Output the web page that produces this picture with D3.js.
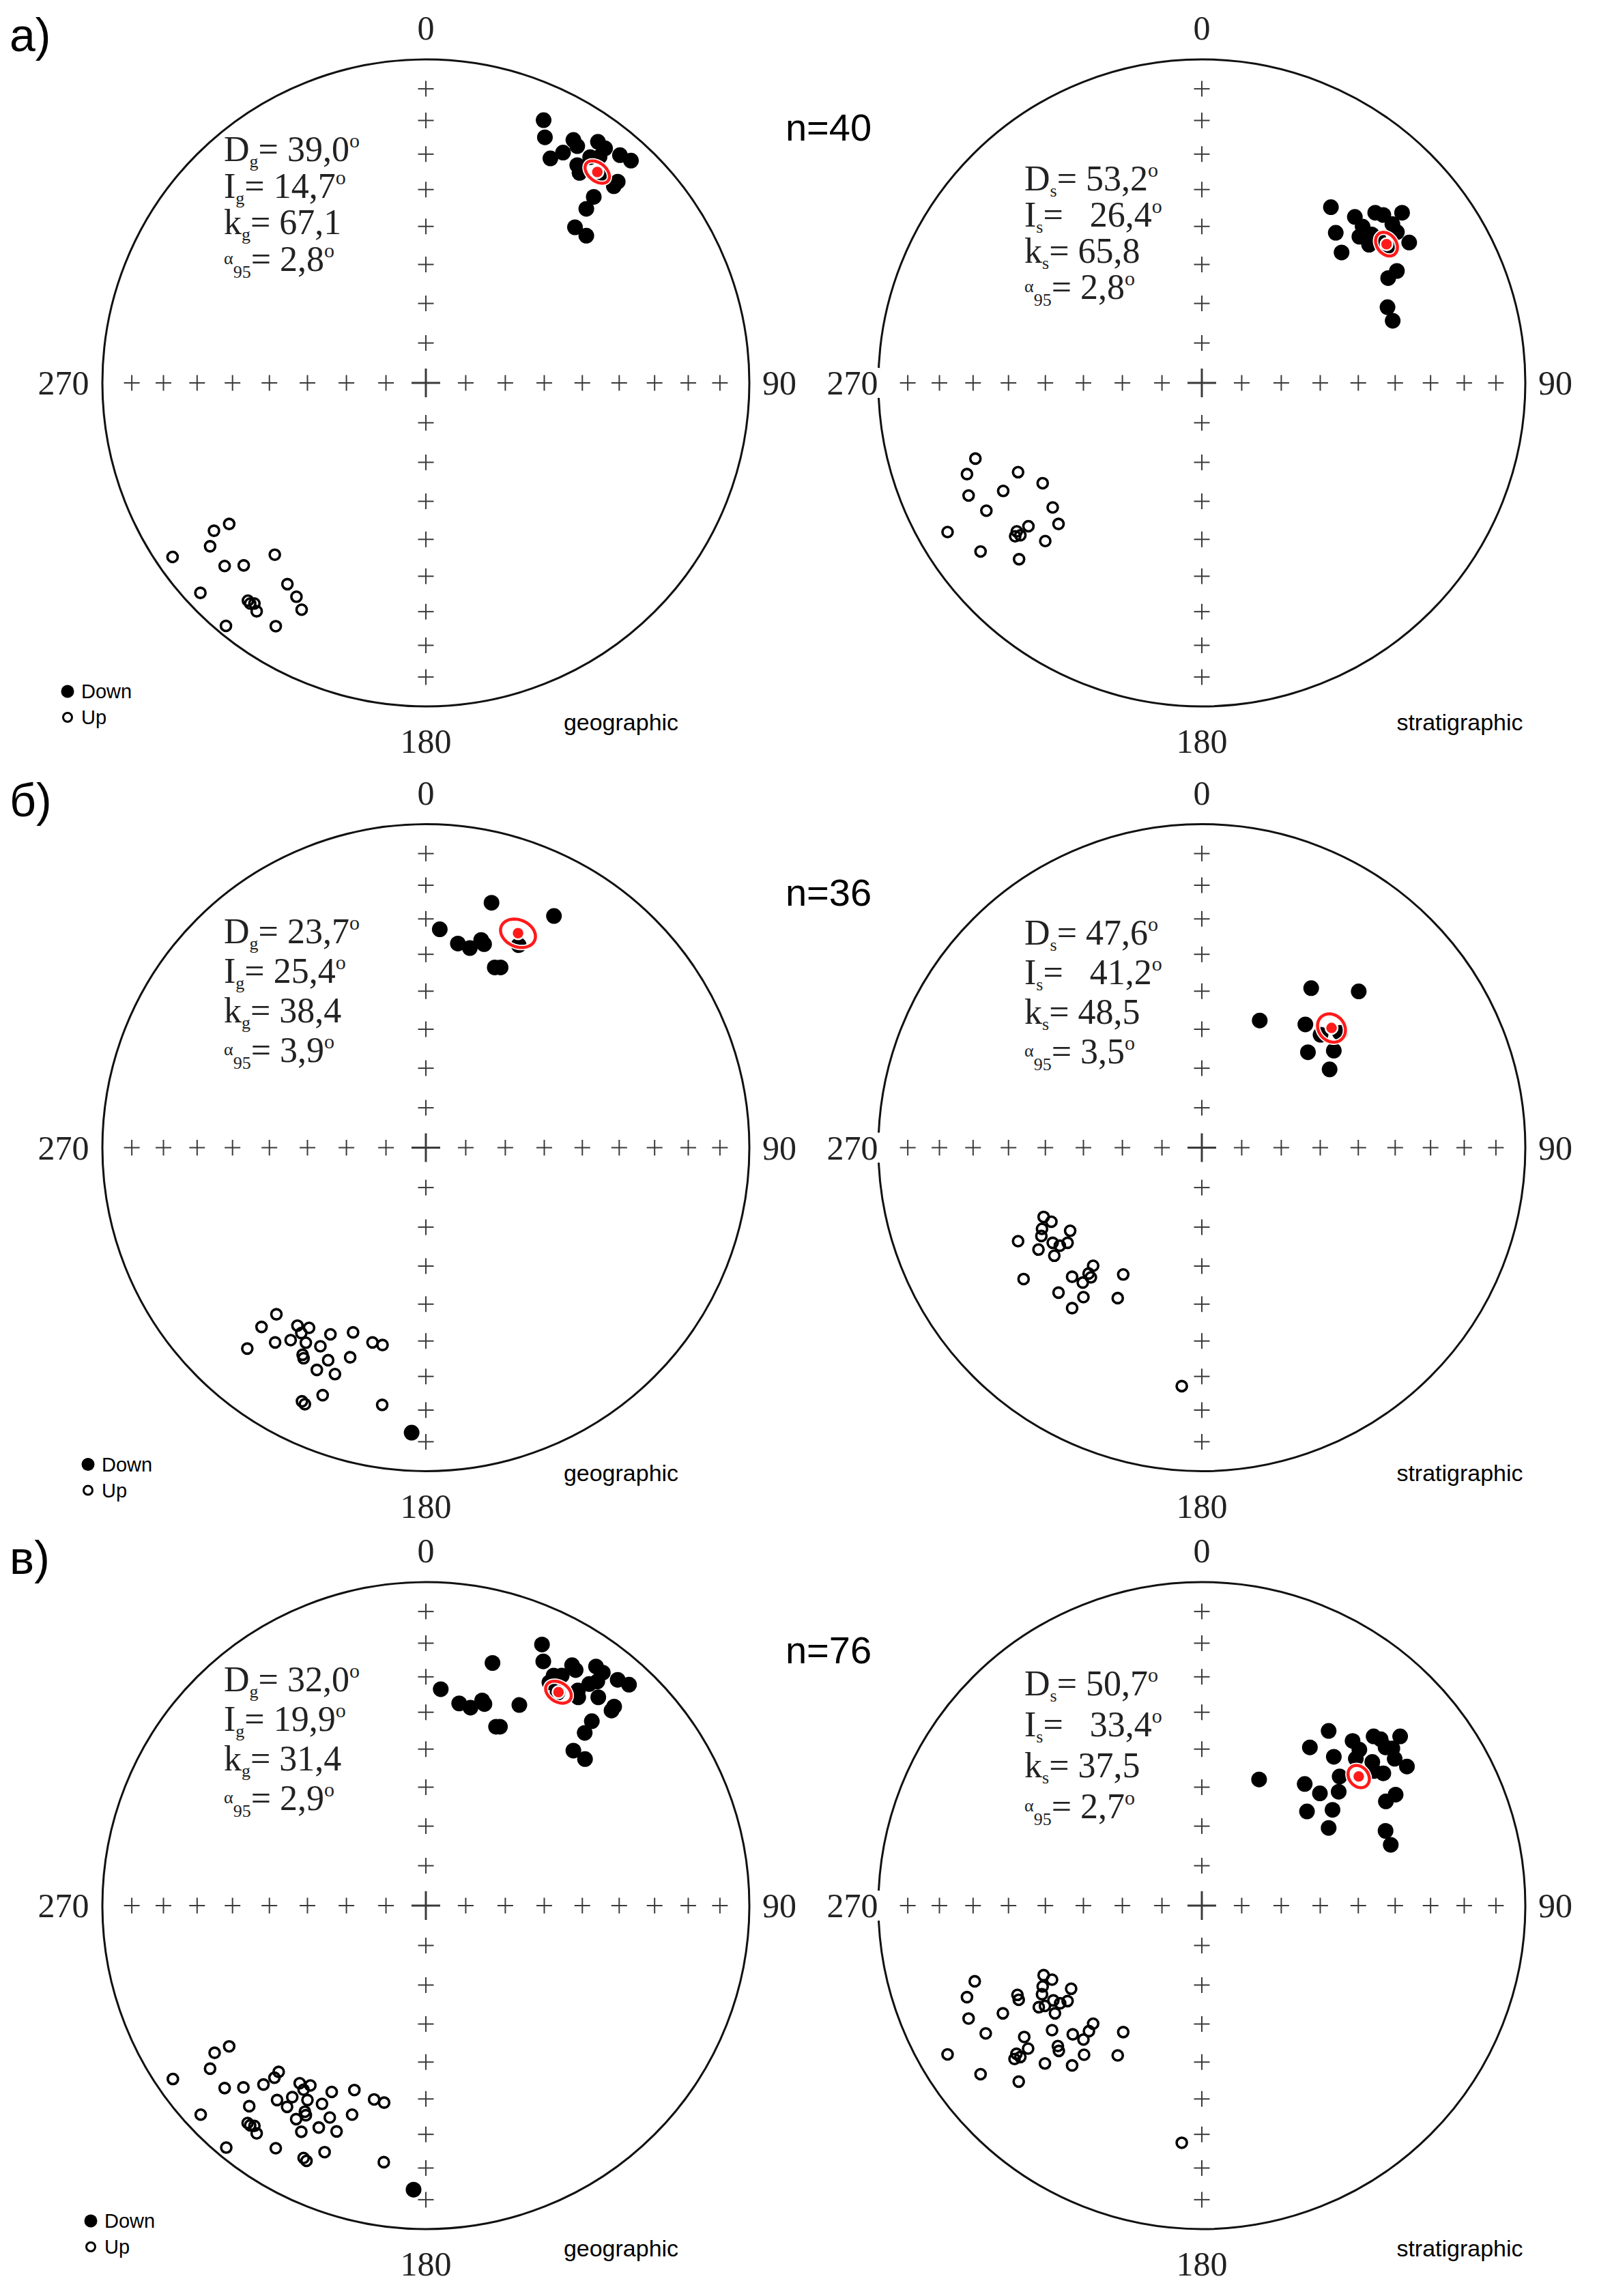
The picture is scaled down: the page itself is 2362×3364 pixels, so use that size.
<!DOCTYPE html>
<html><head><meta charset="utf-8">
<script src="https://cdn.jsdelivr.net/npm/d3@7"></script>
<style>html,body{margin:0;padding:0;background:#fff}</style>
</head><body>
<svg id="c" width="2362" height="3364" xmlns="http://www.w3.org/2000/svg"></svg>
<script>
// ---------------- DATA ----------------
const rowLabels = ["а)", "б)", "в)"];
const sampleCounts = ["n=40", "n=36", "n=76"];
const frameNames = ["geographic", "stratigraphic"];
const frameSubs = ["g", "s"];
const dirLabels = ["0", "90", "180", "270"];
const tickInclinations = [80, 70, 60, 50, 40, 30, 20, 10];
const legendLabels = ["Down", "Up"];

const statD   = [["39,0", "53,2"], ["23,7", "47,6"], ["32,0", "50,7"]];
const statI   = [["14,7", "26,4"], ["25,4", "41,2"], ["19,9", "33,4"]];
const statK   = [["67,1", "65,8"], ["38,4", "48,5"], ["31,4", "37,5"]];
const statA95 = [["2,8", "2,8"], ["3,9", "3,5"], ["2,9", "2,7"]];

// plotted mean directions (projection coords, % of net radius: east, north)
const meanPos = [[[53.0, 65.2], [57.1, 42.9]],
                 [[28.5, 66.3], [40.1, 37.0]],
                 [[41.0, 66.0], [48.5, 39.9]]];

// directions in equal-area projection coords (% of net radius: east, north)
const aGeoDown = [[36.4,81.2],[36.8,75.9],[38.5,69.4],[42.4,71.2],[45.6,75.1],[46.8,73.2],[53.2,74.5],[55.4,72.5],[60.0,70.4],[63.4,68.7],[46.8,67.3],[47.5,64.9],[50.8,69.8],[53.7,69.9],[54.0,63.8],[59.3,62.2],[58.1,60.8],[51.9,57.5],[49.6,53.8],[46.1,48.1],[49.6,45.5]];
const aGeoUp = [[-60.8,-43.6],[-65.5,-45.7],[-66.7,-50.5],[-78.3,-53.8],[-46.7,-53.1],[-62.2,-56.6],[-56.3,-56.4],[-42.8,-62.2],[-40.0,-66.1],[-38.4,-70.1],[-69.7,-64.9],[-55.0,-67.3],[-53.0,-68.2],[-54.3,-68.2],[-52.3,-70.6],[-61.8,-75.1],[-46.4,-75.2]];
const aStrDown = [[39.9,54.3],[47.3,51.3],[41.4,46.4],[43.2,40.3],[49.7,48.3],[48.7,45.2],[51.7,42.7],[53.6,52.6],[56.1,51.9],[61.9,52.6],[58.9,49.1],[60.3,46.6],[64.1,43.4],[52.5,45.9],[57.8,41.7],[60.3,34.6],[57.6,32.4],[57.4,23.4],[59.0,19.2],[54.6,44.5]];
const aStrUp = [[-70.0,-23.4],[-72.6,-28.2],[-56.8,-27.6],[-49.2,-31.0],[-61.4,-33.4],[-72.1,-34.8],[-66.6,-39.5],[-46.1,-38.5],[-44.3,-43.6],[-53.6,-44.3],[-57.2,-45.9],[-56.1,-47.1],[-57.7,-47.4],[-48.4,-48.9],[-78.6,-46.1],[-68.4,-52.1],[-56.5,-54.5]];

const bGeoDown = [[20.3,75.7],[39.6,71.6],[4.3,67.5],[9.9,63.1],[13.6,61.7],[17.1,64.2],[18.0,62.9],[28.7,62.6],[21.3,55.7],[23.1,55.7],[-4.4,-88.1]];
const bGeoUp = [[-46.2,-51.5],[-50.8,-55.4],[-39.7,-55.0],[-36.1,-55.7],[-38.5,-57.3],[-29.5,-57.7],[-22.5,-57.1],[-46.6,-60.2],[-41.8,-59.5],[-37.1,-60.3],[-32.6,-61.4],[-16.5,-60.2],[-13.4,-61.0],[-55.2,-62.1],[-38.1,-64.0],[-37.8,-65.1],[-30.2,-65.7],[-23.4,-64.8],[-33.7,-68.7],[-28.1,-70.0],[-31.9,-76.5],[-38.3,-78.4],[-37.4,-79.3],[-13.5,-79.5]];
const bStrDown = [[33.8,49.3],[48.5,48.3],[17.9,39.3],[32.0,38.1],[36.7,34.9],[42.7,35.5],[32.8,29.5],[40.8,30.0],[39.5,24.2]];
const bStrUp = [[-48.9,-21.4],[-46.5,-22.9],[-49.4,-25.1],[-49.6,-27.3],[-40.7,-25.7],[-56.8,-28.9],[-46.1,-29.4],[-41.5,-29.4],[-43.9,-30.3],[-50.5,-31.5],[-45.6,-33.4],[-33.6,-36.5],[-35.0,-38.9],[-40.1,-39.9],[-36.8,-41.7],[-34.3,-40.1],[-24.3,-39.2],[-55.1,-40.6],[-44.3,-44.8],[-36.6,-46.2],[-26.0,-46.5],[-40.1,-49.6],[-6.2,-73.7]];

const cGeoDown = [[35.9,80.7],[36.3,75.5],[20.6,75.0],[4.6,66.9],[10.3,62.5],[13.8,61.2],[17.4,63.4],[18.1,62.3],[28.9,62.0],[21.7,55.3],[22.9,55.3],[39.5,71.1],[42.0,71.1],[38.2,69.0],[45.2,74.3],[46.3,72.8],[52.6,73.9],[54.7,72.0],[59.3,69.8],[62.8,68.3],[50.5,68.5],[53.0,69.3],[47.0,66.5],[47.1,64.4],[53.3,64.4],[58.2,61.5],[57.4,60.3],[40.7,65.8],[51.3,57.0],[49.1,53.4],[45.6,47.9],[49.2,45.3],[-3.8,-87.8]];
const cGeoUp = [[-60.8,-43.5],[-65.3,-45.5],[-66.7,-50.4],[-78.2,-53.6],[-62.2,-56.4],[-56.4,-56.2],[-50.2,-55.3],[-46.8,-53.2],[-45.5,-51.4],[-39.0,-54.9],[-35.7,-55.6],[-37.8,-56.9],[-29.1,-57.6],[-22.1,-57.0],[-16.0,-59.9],[-12.9,-60.9],[-46.0,-60.1],[-41.3,-59.2],[-36.6,-60.1],[-32.1,-61.3],[-42.9,-62.2],[-54.6,-62.0],[-69.6,-64.6],[-37.4,-63.7],[-37.1,-64.8],[-40.1,-66.0],[-29.7,-65.5],[-22.8,-64.6],[-55.1,-67.2],[-53.0,-68.1],[-54.3,-67.9],[-52.3,-70.4],[-38.5,-69.9],[-33.1,-68.6],[-27.6,-69.8],[-61.7,-74.8],[-46.4,-75.0],[-31.3,-76.2],[-37.8,-78.0],[-36.9,-78.9],[-13.0,-79.3]];
const cStrDown = [[39.2,54.0],[33.4,48.9],[40.8,46.0],[17.7,39.0],[31.8,37.6],[36.5,34.7],[42.3,35.2],[42.6,39.9],[32.5,29.1],[40.4,29.6],[39.2,24.0],[46.6,50.9],[48.7,48.2],[47.6,45.4],[53.1,52.3],[55.3,51.4],[61.3,52.3],[56.8,48.9],[58.9,48.6],[59.6,45.4],[63.4,43.0],[52.7,44.4],[56.1,40.9],[53.2,41.6],[59.9,34.3],[56.9,32.2],[56.8,23.1],[58.4,18.8]];
const cStrUp = [[-70.2,-23.4],[-72.6,-28.3],[-72.1,-34.9],[-66.8,-39.5],[-78.6,-46.0],[-68.4,-52.1],[-61.5,-33.3],[-57.0,-27.6],[-56.6,-29.1],[-48.9,-21.5],[-46.3,-22.9],[-49.2,-25.0],[-49.4,-27.4],[-40.4,-25.7],[-45.9,-29.3],[-43.8,-30.2],[-41.5,-29.5],[-50.4,-31.4],[-48.5,-31.0],[-45.4,-33.3],[-33.6,-36.5],[-34.9,-38.8],[-39.9,-39.8],[-36.6,-41.4],[-24.3,-39.1],[-46.3,-38.5],[-54.9,-40.6],[-53.7,-44.2],[-57.3,-45.8],[-56.1,-46.8],[-57.9,-47.4],[-44.5,-43.4],[-44.2,-44.9],[-36.4,-46.1],[-26.0,-46.3],[-48.5,-48.8],[-40.1,-49.4],[-56.6,-54.4],[-6.2,-73.3]];

const downSets = [[aGeoDown, aStrDown], [bGeoDown, bStrDown], [cGeoDown, cStrDown]];
const upSets   = [[aGeoUp, aStrUp], [bGeoUp, bStrUp], [cGeoUp, cStrUp]];

// ---------------- LAYOUT ----------------
const W = 2362, H = 3364;
const R = 474;
const colCX = [624, 1761];
const rowCY = [561, 1681.5, 2792];
const statX = [-296, -260];
const statY = [[-325, -282], [-300, -298], [-314, -308]];
const statGap = [[53.5, 53], [58, 58], [58, 60]];
const frameLabelX = [286, 378];
const frameLabelY = [497, 476, 502];
const legendDY = [452, 464, 462];
const legendX = [99, 129, 133];
const westLabelDX = [-57, -38];

const RED = "#ff1a1a";
const SERIF = "'Liberation Serif', 'Times New Roman', serif";
const SANS = "'Liberation Sans', Arial, sans-serif";

const svg = d3.select("#c");
svg.append("rect").attr("width", W).attr("height", H).attr("fill", "#fff");

const deg = Math.PI / 180;
const eqArea = inc => Math.SQRT2 * Math.sin((90 - inc) / 2 * deg) * 100;

function coneRing(mx, my, a95) {
  const r = Math.hypot(mx, my) / 100;
  const inc = 90 - 2 * Math.asin(r / Math.SQRT2) / deg;
  const dec = Math.atan2(mx, my) / deg;
  const m = [Math.cos(inc*deg)*Math.cos(dec*deg), Math.cos(inc*deg)*Math.sin(dec*deg), Math.sin(inc*deg)];
  const u = [-Math.sin(dec*deg), Math.cos(dec*deg), 0];
  const v = [m[1]*u[2]-m[2]*u[1], m[2]*u[0]-m[0]*u[2], m[0]*u[1]-m[1]*u[0]];
  const a = a95 * deg, pts = [];
  for (let t = 0; t < 360; t += 5) {
    const c = Math.cos(t*deg), s = Math.sin(t*deg);
    const p = [0,1,2].map(i => Math.cos(a)*m[i] + Math.sin(a)*(c*u[i] + s*v[i]));
    const pi = Math.asin(Math.max(-1, Math.min(1, p[2]))) / deg;
    const pd = Math.atan2(p[1], p[0]);
    const rr = eqArea(pi);
    pts.push([rr*Math.sin(pd), rr*Math.cos(pd)]);
  }
  return pts;
}

rowLabels.forEach((lab, r) => {
  svg.append("text").attr("x", 14).attr("y", rowCY[r] - 486)
    .attr("font-family", SANS).attr("font-size", 68).text(lab);
  svg.append("text").attr("x", 1214).attr("y", rowCY[r] - 355)
    .attr("text-anchor", "middle").attr("font-family", SANS).attr("font-size", 56)
    .text(sampleCounts[r]);
});

for (let r = 0; r < 3; r++) {
  for (let c = 0; c < 2; c++) {
    const cx = colCX[c], cy = rowCY[r];
    const x = d3.scaleLinear().domain([-100, 100]).range([cx - R, cx + R]);
    const y = d3.scaleLinear().domain([-100, 100]).range([cy + R, cy - R]);
    const g = svg.append("g");

    g.append("circle").attr("cx", x(0)).attr("cy", y(0)).attr("r", x(100) - x(0))
      .attr("fill", "none").attr("stroke", "#111").attr("stroke-width", 3);

    const tickPts = [];
    tickInclinations.forEach(inc => {
      const rr = eqArea(inc);
      tickPts.push([0, rr], [rr, 0], [0, -rr], [-rr, 0]);
    });
    const cross = (px, py, s, w) => {
      g.append("line").attr("x1", x(px) - s).attr("x2", x(px) + s).attr("y1", y(py)).attr("y2", y(py))
        .attr("stroke", "#3a3a3a").attr("stroke-width", w);
      g.append("line").attr("x1", x(px)).attr("x2", x(px)).attr("y1", y(py) - s).attr("y2", y(py) + s)
        .attr("stroke", "#3a3a3a").attr("stroke-width", w);
    };
    tickPts.forEach(p => cross(p[0], p[1], 11.5, 2));
    cross(0, 0, 21, 3);

    const dl = [[0, 100, 0, -46], [100, 0, 44, 0], [0, -100, 0, 51], [-100, 0, westLabelDX[c], 0]];
    dl.forEach((d, i) => {
      const lx = x(d[0]) + d[2], ly = y(d[1]) + d[3];
      if (i === 3 && c === 1) {
        g.append("rect").attr("x", lx - 40).attr("y", ly - 22).attr("width", 80).attr("height", 44)
          .attr("fill", "#fff");
      }
      g.append("text").attr("x", lx).attr("y", ly)
        .attr("text-anchor", "middle").attr("dominant-baseline", "central")
        .attr("font-family", SERIF).attr("font-size", 50).attr("fill", "#222")
        .text(dirLabels[i]);
    });

    g.selectAll(null).data(upSets[r][c]).join("circle")
      .attr("cx", d => x(d[0])).attr("cy", d => y(d[1])).attr("r", 7.5)
      .attr("fill", "none").attr("stroke", "#000").attr("stroke-width", 3.6);
    g.selectAll(null).data(downSets[r][c]).join("circle")
      .attr("cx", d => x(d[0])).attr("cy", d => y(d[1])).attr("r", 11.5)
      .attr("fill", "#000");

    const mp = meanPos[r][c];
    const ring = coneRing(mp[0], mp[1], +statA95[r][c].replace(",", "."));
    const line = d3.line().x(d => x(d[0])).y(d => y(d[1])).curve(d3.curveLinearClosed);
    g.append("path").attr("d", line(ring)).attr("fill", "none").attr("stroke", "#fff").attr("stroke-width", 8);
    g.append("path").attr("d", line(ring)).attr("fill", "none").attr("stroke", RED).attr("stroke-width", 4.5);
    g.append("circle").attr("cx", x(mp[0])).attr("cy", y(mp[1])).attr("r", 9)
      .attr("fill", RED).attr("stroke", "#fff").attr("stroke-width", 2.5);

    const sx = cx + statX[c], sy0 = cy + statY[r][c], gap = statGap[r][c];
    const sub = frameSubs[c];
    const mk = (i) => svg.append("text").attr("x", sx).attr("y", sy0 + i * gap)
      .attr("font-family", SERIF).attr("font-size", 52).attr("fill", "#222")
      .attr("xml:space", "preserve").style("white-space", "pre");
    const rows = [["D", statD[r][c], true, ""], ["I", statI[r][c], true, c === 1 ? "  " : ""], ["k", statK[r][c], false, ""]];
    rows.forEach((rw, i) => {
      const t = mk(i);
      t.append("tspan").text(rw[0]);
      t.append("tspan").attr("font-size", 26).attr("dy", 9).text(sub);
      t.append("tspan").attr("dy", -9).text("= " + rw[3] + rw[1]);
      if (rw[2]) t.append("tspan").attr("font-size", 30).attr("dy", -20).text("o");
    });
    const t4 = mk(3);
    t4.append("tspan").attr("font-size", 26).attr("dy", -10).text("α");
    t4.append("tspan").attr("font-size", 26).attr("dy", 20).text("95");
    t4.append("tspan").attr("dy", -10).text("= " + statA95[r][c]);
    t4.append("tspan").attr("font-size", 30).attr("dy", -20).text("o");

    svg.append("text").attr("x", cx + frameLabelX[c]).attr("y", cy + frameLabelY[r])
      .attr("text-anchor", "middle").attr("dominant-baseline", "central")
      .attr("font-family", SANS).attr("font-size", 34).text(frameNames[c]);

    if (c === 0) {
      const lx = legendX[r], ly = cy + legendDY[r];
      svg.append("circle").attr("cx", lx).attr("cy", ly).attr("r", 9.5).attr("fill", "#000");
      svg.append("circle").attr("cx", lx).attr("cy", ly + 38).attr("r", 6.5)
        .attr("fill", "none").attr("stroke", "#000").attr("stroke-width", 3);
      legendLabels.forEach((lab, i) => {
        svg.append("text").attr("x", lx + 20).attr("y", ly + i * 38)
          .attr("dominant-baseline", "central").attr("font-family", SANS).attr("font-size", 29)
          .text(lab);
      });
    }
  }
}
</script>
</body></html>
